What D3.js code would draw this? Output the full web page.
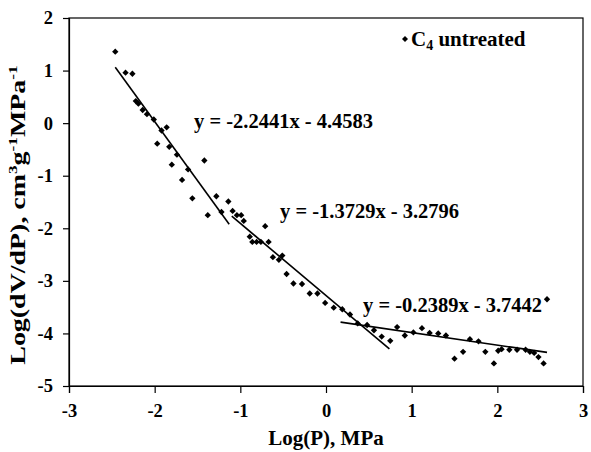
<!DOCTYPE html>
<html>
<head>
<meta charset="utf-8">
<script src="https://cdn.jsdelivr.net/npm/d3@7"></script>
<style>
	body { margin: 0; background: #fff; }
	text { font-family: "Liberation Serif", "Times New Roman", serif; font-weight: bold; fill: #000; }
</style>
</head>
<body>
<svg></svg>
<script>
const log_p = [
	-2.46, -2.34, -2.26, -2.22, -2.19, -2.14, -2.09, -2.01, -1.97, -1.92,
	-1.86, -1.83, -1.80, -1.74, -1.68, -1.61, -1.56, -1.42, -1.38, -1.28,
	-1.22, -1.14, -1.09, -1.04, -0.99, -0.96, -0.89, -0.86, -0.81, -0.76,
	-0.71, -0.67, -0.62, -0.55, -0.51, -0.46, -0.38, -0.28, -0.19, -0.10,
	-0.01, 0.09, 0.19, 0.28, 0.37, 0.48, 0.56, 0.65, 0.75, 0.83,
	0.92, 1.02, 1.12, 1.21, 1.31, 1.40, 1.50, 1.60, 1.68, 1.78,
	1.86, 1.96, 2.01, 2.05, 2.14, 2.23, 2.33, 2.38, 2.43, 2.48,
	2.54, 2.58
];
const log_dvdp = [
	1.36, 0.96, 0.94, 0.42, 0.37, 0.25, 0.17, 0.07, -0.39, -0.14,
	-0.08, -0.45, -0.79, -0.60, -1.08, -0.88, -1.43, -0.71, -1.75, -1.39,
	-1.69, -1.49, -1.67, -1.75, -1.75, -1.86, -2.16, -2.26, -2.26, -2.26,
	-1.96, -2.26, -2.55, -2.60, -2.52, -2.87, -3.05, -3.06, -3.24, -3.24,
	-3.42, -3.51, -3.54, -3.64, -3.81, -3.84, -3.94, -4.06, -4.14, -3.88,
	-4.04, -3.98, -3.90, -3.99, -4.00, -4.04, -4.48, -4.35, -4.11, -4.15,
	-4.35, -4.57, -4.33, -4.30, -4.31, -4.31, -4.31, -4.35, -4.37, -4.45,
	-4.57, -3.35
];

// three linear fits, each drawn over its own x range
const fit_slopes = [-2.2441, -1.3729, -0.2389];
const fit_intercepts = [-4.4583, -3.2796, -3.7442];
const fit_x_start = [-2.46, -1.10, 0.17];
const fit_x_end = [-1.13, 0.74, 2.58];
const fit_labels = ["y = -2.2441x - 4.4583", "y = -1.3729x - 3.2796", "y = -0.2389x - 3.7442"];

const x_ticks = [-3, -2, -1, 0, 1, 2, 3];
const y_ticks = [-5, -4, -3, -2, -1, 0, 1, 2];

const margin = {
	"top": 18,
	"right": 8,
	"bottom": 66,
	"left": 69
};

const full_width = 591;
const full_height = 452;
const width = full_width - margin.left - margin.right;
const height = full_height - margin.top - margin.bottom;

let svg = d3.select('svg')
	.attr('width', full_width)
	.attr('height', full_height);

let x = d3.scaleLinear().domain([-3, 3]).range([0, width]);
let y = d3.scaleLinear().domain([-5, 2]).range([height, 0]);

let container = svg.append('g')
	.attr('transform', 'translate(' + margin.left + ',' + margin.top + ')');

function drawAxes(){
	container.append('rect')
		.attr('width', width)
		.attr('height', height)
		.attr('fill', 'none')
		.attr('stroke', '#000')
		.attr('stroke-width', 1.2);

	let x_axis = container.append('g')
		.attr('transform', 'translate(0,' + height + ')')
		.call(d3.axisBottom(x).tickValues(x_ticks).tickSize(7).tickPadding(11).tickFormat(d => String(d)));

	let y_axis = container.append('g')
		.call(d3.axisLeft(y).tickValues(y_ticks).tickSize(6).tickPadding(10).tickFormat(d => String(d)));

	[x_axis, y_axis].forEach(function(a){
		a.select('.domain').attr('stroke', '#000').attr('stroke-width', 1.2);
		a.selectAll('.tick line').attr('stroke', '#000').attr('stroke-width', 1.2);
		a.selectAll('.tick text')
			.style('font-family', '"Liberation Serif", serif')
			.style('font-weight', 'bold')
			.style('font-size', '18.5px');
	});

	// x title
	svg.append('text')
		.attr('x', margin.left + width / 2)
		.attr('y', 445)
		.attr('text-anchor', 'middle')
		.style('font-size', '21px')
		.text('Log(P), MPa');

	// y title with superscripts, stretched along its length like the original
	let ytitle = svg.append('text')
		.attr('transform', 'translate(25,215) rotate(-90) scale(1.33,1)')
		.attr('text-anchor', 'middle')
		.style('font-size', '21px');
	ytitle.append('tspan').text('Log(dV/dP), cm');
	ytitle.append('tspan').attr('dy', -8).style('font-size', '13px').text('3');
	ytitle.append('tspan').attr('dy', 8).text('g');
	ytitle.append('tspan').attr('dy', -8).style('font-size', '13px').text('-1');
	ytitle.append('tspan').attr('dy', 8).text('MPa');
	ytitle.append('tspan').attr('dy', -8).style('font-size', '13px').text('-1');
};

function drawFits(){
	let line = d3.line()
		.x(d => x(d[0]))
		.y(d => y(d[1]));

	fit_slopes.forEach(function(m, i){
		let b = fit_intercepts[i];
		let pts = [fit_x_start[i], fit_x_end[i]].map(v => [v, m * v + b]);
		container.append('path')
			.attr('d', line(pts))
			.attr('fill', 'none')
			.attr('stroke', '#000')
			.attr('stroke-width', 1.6);
	});

	const label_pos = [[125, 110], [211, 200], [294, 294]];
	container.selectAll('.eq')
		.data(fit_labels)
		.enter()
		.append('text')
		.classed('eq', true)
		.attr('x', (d, i) => label_pos[i][0])
		.attr('y', (d, i) => label_pos[i][1])
		.style('font-size', '20.5px')
		.text(d => d);
};

function drawPoints(){
	let diamond = d3.symbol().type(d3.symbolSquare).size(20);

	container.selectAll('.pt')
		.data(log_p)
		.enter()
		.append('path')
		.classed('pt', true)
		.attr('d', diamond)
		.attr('transform', (d, i) => 'translate(' + x(d) + ',' + y(log_dvdp[i]) + ') rotate(45)')
		.attr('fill', '#000');
};

function drawLegend(){
	svg.append('path')
		.attr('d', d3.symbol().type(d3.symbolSquare).size(18))
		.attr('transform', 'translate(405,39) rotate(45)')
		.attr('fill', '#000');

	let t = svg.append('text')
		.attr('x', 411)
		.attr('y', 45.5)
		.style('font-size', '21px');
	t.append('tspan').text('C');
	t.append('tspan').attr('dy', 4).style('font-size', '14px').text('4');
	t.append('tspan').attr('dy', -4).text(' untreated');
};

drawAxes();
drawFits();
drawPoints();
drawLegend();
</script>
</body>
</html>
